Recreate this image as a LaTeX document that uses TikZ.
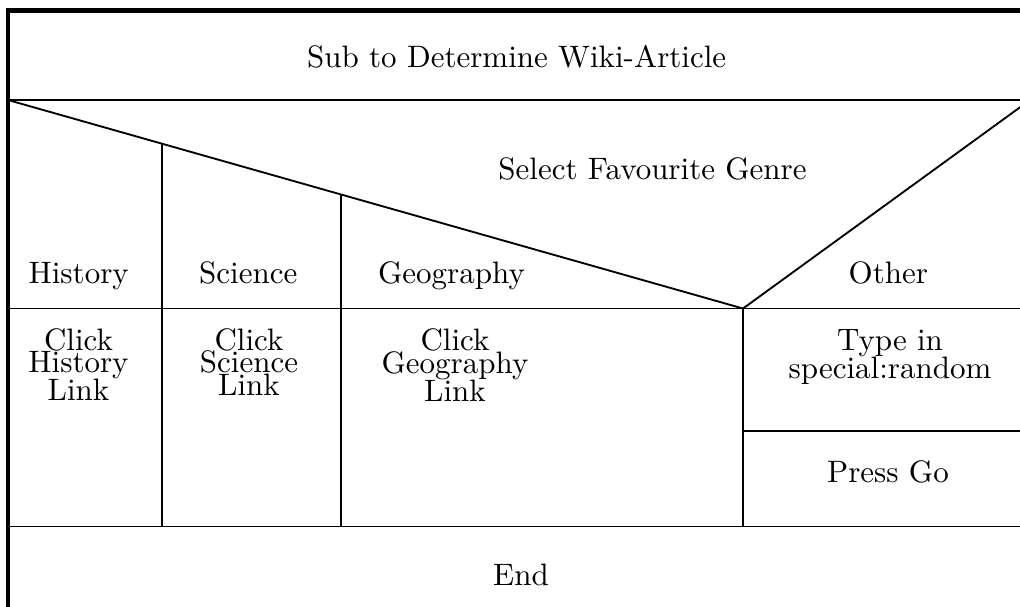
\documentclass[tikz,border=0pt]{standalone}
\newcommand{\tightlines}{\fontsize{10}{0}\selectfont\setlength{\lineskip}{0pt}}
\begin{document}
\begin{tikzpicture}[x=0.3226pt, y=-0.3226pt,
    frame/.style={line width=1.3pt},
    rule/.style={line width=0.6pt},
    lbl/.style={font=\fontsize{10}{0}\selectfont, inner sep=0pt, anchor=base},
    block/.style={font=\tightlines, inner sep=0pt, anchor=base, align=center}]
  \useasboundingbox (0,0) rectangle (1020,606);
  \clip (0,0) rectangle (1020,606);

  % corners and junctions of the structogram
  \coordinate (tl) at (8,10.5);
  \coordinate (tr) at (1030,10.5);
  \coordinate (bl) at (8,650);
  \coordinate (br) at (1030,650);
  \coordinate (hl) at (8,100);
  \coordinate (hr) at (1030,100);
  \coordinate (v) at (743,308.5);
  \coordinate (cl) at (8,308.5);
  \coordinate (cr) at (1030,308.5);
  \coordinate (s1) at (162.3,144.3);
  \coordinate (s2) at (340.7,194.9);
  \coordinate (s1b) at (162.3,526.5);
  \coordinate (s2b) at (340.7,526.5);
  \coordinate (vb) at (743,526.5);
  \coordinate (el) at (8,526.5);
  \coordinate (er) at (1030,526.5);
  \coordinate (ol) at (743,431);
  \coordinate (or) at (1030,431);

  % outer frame
  \draw[frame] (bl) -- (tl) -- (tr) -- (br);

  % header and case selector
  \draw[rule] (hl) -- (hr);
  \draw[rule] (hl) -- (v) -- (hr);
  \draw[rule] (cl) -- (cr);
  \draw[rule] (s1) -- (s1b);
  \draw[rule] (s2) -- (s2b);
  \draw[rule] (v) -- (vb);
  \draw[rule] (ol) -- (or);
  \draw[rule] (el) -- (er);

  % texts (multi-line blocks sit on the baseline of their last line)
  \node[lbl] (title) at (516.7,67.3) {Sub to Determine Wiki-Article};
  \node[lbl] (select) at (652.5,179.3) {Select Favourite Genre};
  \node[lbl] (history) at (78.7,283) {History};
  \node[lbl] (science) at (248.3,283) {Science};
  \node[lbl] (geography) at (451.5,283) {Geography};
  \node[lbl] (other) at (888.3,283) {Other};
  \node[block] (clickh) at (78.5,400) {Click\\History\\Link};
  \node[block] (clicks) at (249,395) {Click\\Science\\Link};
  \node[block] (clickg) at (455,401) {Click\\Geography\\Link};
  \node[block] (typein) at (890,378) {Type in\\special:random};
  \node[lbl] (press) at (888,482.3) {Press Go};
  \node[lbl] (end) at (521,585) {End};
\end{tikzpicture}
\end{document}
